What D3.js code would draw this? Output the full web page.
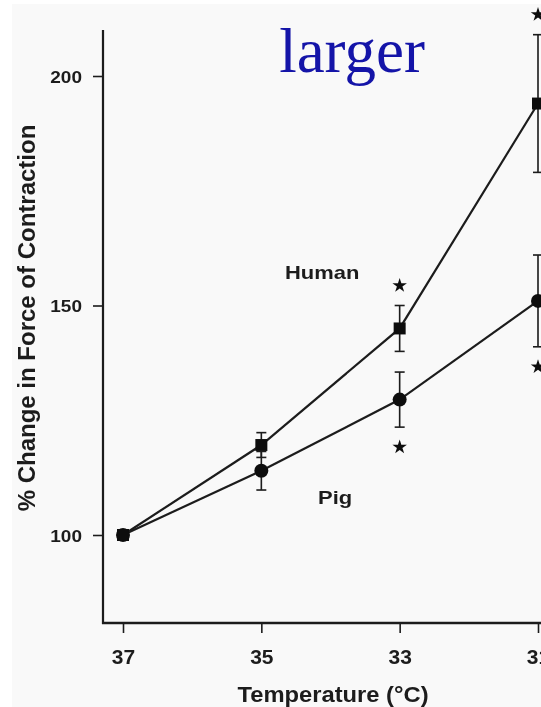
<!DOCTYPE html>
<html>
<head>
<meta charset="utf-8">
<script src="https://cdn.jsdelivr.net/npm/d3@7"></script>
<style>
  html, body { margin: 0; padding: 0; background: #ffffff; overflow: hidden; }
  svg { display: block; }
</style>
</head>
<body>
<div id="chart"></div>
<script>
// Force of contraction vs. temperature, human and pig myocardium
const temps    = [37, 35, 33, 31];
const human    = [100, 119.6, 145, 194];
const humanErr = [0, 2.7, 5, 15];
const pig      = [100, 114, 129.5, 151];
const pigErr   = [0, 4.2, 6, 10];
// significance markers: which temperatures carry a star
const humanStar = [false, false, true, true];
const pigStar   = [false, false, true, true];
const xTicks = [37, 35, 33, 31];
const yTicks = [100, 150, 200];

const W = 541, H = 707;
const ink = "#1c1c1c";
const sans = "Arial, 'Liberation Sans', sans-serif";

const svg = d3.select("#chart").append("svg")
  .attr("width", W).attr("height", H);

const defs = svg.append("defs");
defs.append("filter").attr("id", "soft")
  .append("feGaussianBlur").attr("stdDeviation", 0.45);

svg.append("rect").attr("width", W).attr("height", H).attr("fill", "#ffffff");
svg.append("rect").attr("x", 12).attr("y", 4).attr("width", W - 12).attr("height", H - 4)
  .attr("fill", "#f9f9f9");

const x = d3.scaleLinear().domain([37, 31]).range([123, 538]);
const y = d3.scaleLinear().domain([100, 200]).range([535, 76]);

const axX = 103, axY = 623;
const g = svg.append("g").attr("filter", "url(#soft)");

// axes frame
g.append("line").attr("x1", axX).attr("x2", axX).attr("y1", 30).attr("y2", axY + 1)
  .attr("stroke", ink).attr("stroke-width", 2.2);
g.append("line").attr("x1", axX - 1).attr("x2", W + 10).attr("y1", axY).attr("y2", axY)
  .attr("stroke", ink).attr("stroke-width", 2.4);

const yAxis = g.append("g").attr("transform", `translate(${axX},0)`)
  .call(d3.axisLeft(y).tickValues(yTicks).tickSize(10).tickSizeOuter(0));
yAxis.select(".domain").remove();
yAxis.selectAll(".tick line").attr("stroke", ink).attr("stroke-width", 1.6);
yAxis.selectAll(".tick text")
  .attr("x", null).attr("dy", "0.36em")
  .attr("transform", `translate(-21,0) scale(1.12,1)`)
  .attr("fill", ink).attr("font-family", sans)
  .attr("font-size", 17).attr("font-weight", "bold").attr("text-anchor", "end");

const xAxis = g.append("g").attr("transform", `translate(0,${axY})`)
  .call(d3.axisBottom(x).tickValues(xTicks).tickSize(10).tickSizeOuter(0).tickFormat(d3.format("d")));
xAxis.select(".domain").remove();
xAxis.selectAll(".tick line").attr("stroke", ink).attr("stroke-width", 1.6);
xAxis.selectAll(".tick text")
  .attr("y", null).attr("dy", null)
  .attr("transform", `translate(0,41) scale(1.05,1)`)
  .attr("fill", ink).attr("font-family", sans)
  .attr("font-size", 20).attr("font-weight", "bold");

// axis titles
g.append("text")
  .attr("transform", `translate(333,702) scale(1.08,1)`)
  .attr("text-anchor", "middle").attr("fill", ink)
  .attr("font-family", sans)
  .attr("font-size", 22).attr("font-weight", "bold")
  .text("Temperature (°C)");

g.append("text")
  .attr("transform", `translate(35,318) rotate(-90)`)
  .attr("text-anchor", "middle").attr("fill", ink)
  .attr("font-family", sans)
  .attr("font-size", 24).attr("font-weight", "bold")
  .text("% Change in Force of Contraction");

// series
const series = [
  { name: "Human", vals: human, err: humanErr, star: humanStar, shape: "square", dir: -1 },
  { name: "Pig",   vals: pig,   err: pigErr,   star: pigStar,   shape: "circle", dir: 1 }
];

const line = d3.line().x((d, i) => x(temps[i])).y(d => y(d));

series.forEach(s => {
  const sg = g.append("g");
  // error bars
  temps.forEach((t, i) => {
    if (!s.err[i]) return;
    const cx = x(t), y1 = y(s.vals[i] + s.err[i]), y2 = y(s.vals[i] - s.err[i]);
    sg.append("line").attr("x1", cx).attr("x2", cx).attr("y1", y1).attr("y2", y2)
      .attr("stroke", ink).attr("stroke-width", 1.6);
    [y1, y2].forEach(yy => sg.append("line")
      .attr("x1", cx - 5).attr("x2", cx + 5).attr("y1", yy).attr("y2", yy)
      .attr("stroke", ink).attr("stroke-width", 1.6));
  });
  sg.append("path").datum(s.vals).attr("d", line)
    .attr("fill", "none").attr("stroke", ink).attr("stroke-width", 2.2);
  // markers
  s.vals.forEach((v, i) => {
    const cx = x(temps[i]), cy = y(v);
    if (s.shape === "square") {
      sg.append("rect").attr("x", cx - 6).attr("y", cy - 6).attr("width", 12).attr("height", 12)
        .attr("fill", "#111");
    } else {
      sg.append("circle").attr("cx", cx).attr("cy", cy).attr("r", 7).attr("fill", "#111");
    }
  });
  // significance stars
  const star = d3.symbol().type(d3.symbolStar).size(65);
  s.vals.forEach((v, i) => {
    if (!s.star[i]) return;
    const cx = x(temps[i]);
    const end = y(v - s.dir * s.err[i]);
    const cy = end + s.dir * 20;
    sg.append("path").attr("d", star()).attr("transform", `translate(${cx},${cy})`)
      .attr("fill", "#111");
  });
});

// series labels
const lab = (txt, lx, ly) => g.append("text")
  .attr("transform", `translate(${lx},${ly}) scale(1.22,1)`)
  .attr("fill", ink).attr("font-family", sans)
  .attr("font-size", 18).attr("font-weight", "bold").text(txt);
lab("Human", 285, 279);
lab("Pig", 318, 504);

// annotation
svg.append("text")
  .attr("x", 352).attr("y", 72).attr("text-anchor", "middle")
  .attr("fill", "#1414a8")
  .attr("font-family", "'Liberation Serif', 'Times New Roman', serif")
  .attr("font-size", 63)
  .text("larger");
</script>
</body>
</html>
